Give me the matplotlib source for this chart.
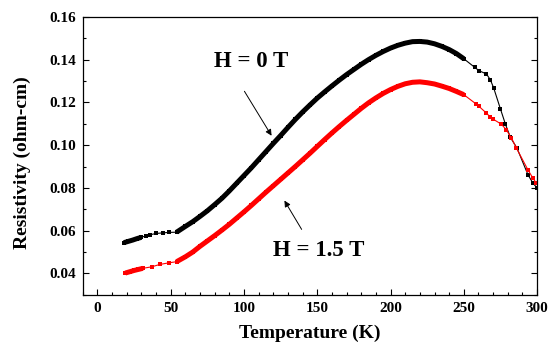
import matplotlib
matplotlib.use('Agg')
import matplotlib.pyplot as plt
from matplotlib.ticker import MultipleLocator

plt.rcParams['font.family'] = ['Liberation Serif', 'DejaVu Serif']
plt.rcParams['font.weight'] = 'bold'

# H = 0 T  (black)
t0 = [18, 21, 24, 27, 30, 33, 36, 40, 45, 49,
      54, 60, 65, 70, 75, 80, 85, 90, 95, 100, 105, 110, 115, 120, 125, 130, 135,
      140, 145, 150, 155, 160, 165, 170, 175, 180, 185, 190, 195, 200, 205, 210,
      215, 220, 225, 230, 235, 240, 245, 250,
      257.4, 260.4, 265.4, 268.1, 270.4, 275.0, 278.4, 281.8, 286.3, 293.8, 297.2, 300.2]
r0 = [0.0544, 0.0550, 0.0556, 0.0563, 0.0569, 0.0576, 0.0581, 0.0587, 0.0590, 0.0592,
      0.0593, 0.0620, 0.0642, 0.0667, 0.0693, 0.0722, 0.0752, 0.0786, 0.0822, 0.0858,
      0.0894, 0.0932, 0.0970, 0.1008, 0.1045, 0.1083, 0.1120,
      0.1155, 0.1188, 0.1220, 0.1249, 0.1277, 0.1304, 0.1330, 0.1354, 0.1378, 0.1400,
      0.1420, 0.1438, 0.1454, 0.1467, 0.1477, 0.1484, 0.1485, 0.1482, 0.1474, 0.1462,
      0.1447, 0.1428, 0.1404,
      0.1364, 0.1348, 0.1333, 0.1306, 0.1267, 0.1169, 0.1098, 0.1036, 0.0986, 0.0861,
      0.0822, 0.0798]

# H = 1.5 T  (red)
t1 = [19, 22, 25, 28, 31, 37, 42.5, 49,
      54, 60, 65, 70, 75, 80, 85, 90, 95, 100, 105, 110, 115, 120, 125, 130, 135,
      140, 145, 150, 155, 160, 165, 170, 175, 180, 185, 190, 195, 200, 205, 210,
      215, 220, 225, 230, 235, 240, 245, 250,
      258.1, 260.4, 265.4, 268.1, 269.9, 275.6, 279.0, 282.5, 285.9, 293.8, 297.2, 299.5]
r1 = [0.0402, 0.0408, 0.0414, 0.0419, 0.0424, 0.0431, 0.0442, 0.0450,
      0.0455, 0.0478, 0.0500, 0.0527, 0.0552, 0.0577, 0.0603, 0.0630, 0.0659, 0.0688,
      0.0718, 0.0749, 0.0780, 0.0810, 0.0840, 0.0870, 0.0900,
      0.0931, 0.0962, 0.0994, 0.1026, 0.1057, 0.1087, 0.1116, 0.1144, 0.1172, 0.1198,
      0.1221, 0.1242, 0.1260, 0.1275, 0.1287, 0.1294, 0.1296, 0.1292, 0.1286, 0.1276,
      0.1265, 0.1251, 0.1236,
      0.1194, 0.1181, 0.1150, 0.1131, 0.1122, 0.1098, 0.1072, 0.1033, 0.0986, 0.0884,
      0.0845, 0.0822]

# index ranges where the measurement is dense (drawn as a thick band)
dense0 = [(0, 5), (10, 50)]
dense1 = [(0, 5), (8, 48)]

fig = plt.figure(figsize=(5.52, 3.51), dpi=100)
ax = fig.add_axes([0.150, 0.160, 0.823, 0.792])

ax.plot(t0, r0, color='black', lw=0.8, marker='s', ms=3.2, mew=0)
ax.plot(t1, r1, color='red', lw=0.8, marker='s', ms=3.2, mew=0)
for a, b in dense0:
    ax.plot(t0[a:b], r0[a:b], color='black', lw=3.6, solid_capstyle='butt')
for a, b in dense1:
    ax.plot(t1[a:b], r1[a:b], color='red', lw=3.6, solid_capstyle='butt')

ax.set_xlim(-10, 300)
ax.set_ylim(0.03, 0.16)
ax.xaxis.set_major_locator(MultipleLocator(50))
ax.xaxis.set_minor_locator(MultipleLocator(10))
ax.yaxis.set_major_locator(MultipleLocator(0.02))
ax.yaxis.set_minor_locator(MultipleLocator(0.01))
ax.tick_params(which='both', direction='in', right=True, top=False, labelsize=11)
ax.tick_params(which='major', length=4, width=0.8, pad=5)
ax.tick_params(which='minor', length=2.5, width=0.8)
ax.set_yticks([0.04, 0.06, 0.08, 0.10, 0.12, 0.14, 0.16])
ax.set_yticklabels(['0.04', '0.06', '0.08', '0.10', '0.12', '0.14', '0.16'])
for s in ax.spines.values():
    s.set_linewidth(0.9)

ax.set_xlabel('Temperature (K)', fontsize=14, fontweight='bold', labelpad=7)
ax.set_ylabel('Resistivity (ohm-cm)', fontsize=14, fontweight='bold')
ax.yaxis.set_label_coords(-0.115, 0.475)

ax.text(105, 0.1392, 'H = 0 T', fontsize=16.5, fontweight='bold', ha='center', va='center')
ax.text(151, 0.0509, 'H = 1.5 T', fontsize=16.5, fontweight='bold', ha='center', va='center')
ax.annotate('', xy=(119.8, 0.1033), xytext=(99.3, 0.1263),
            arrowprops=dict(arrowstyle='-|>', color='black', lw=0.7, mutation_scale=9))
ax.annotate('', xy=(126.6, 0.0752), xytext=(140.3, 0.0595),
            arrowprops=dict(arrowstyle='-|>', color='black', lw=0.7, mutation_scale=9))

fig.savefig('out.png', dpi=100)
